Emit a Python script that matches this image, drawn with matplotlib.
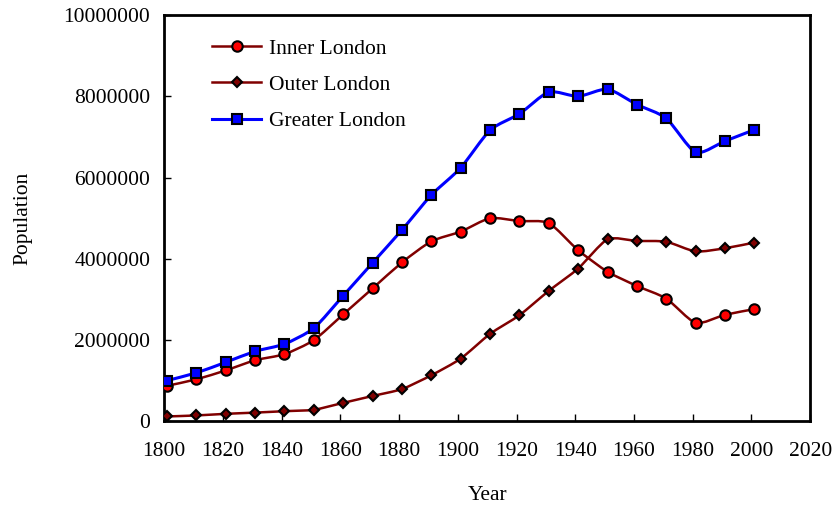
import matplotlib
matplotlib.use('Agg')
import matplotlib.pyplot as plt
import numpy as np
from matplotlib.path import Path
from matplotlib.patches import PathPatch
from matplotlib.lines import Line2D

# census years and population
years = [1801, 1811, 1821, 1831, 1841, 1851, 1861, 1871, 1881, 1891, 1901,
         1911, 1921, 1931, 1941, 1951, 1961, 1971, 1981, 1991, 2001]
inner_london = [870000, 1030000, 1250000, 1500000, 1650000, 1995000, 2630000,
                3270000, 3910000, 4430000, 4670000, 5000000, 4930000, 4880000,
                4210000, 3680000, 3330000, 3020000, 2420000, 2620000, 2760000]
outer_london = [115000, 140000, 180000, 210000, 245000, 280000, 450000,
                620000, 790000, 1130000, 1540000, 2150000, 2610000, 3210000,
                3760000, 4480000, 4440000, 4420000, 4180000, 4260000, 4400000]
greater_london = [1000000, 1190000, 1450000, 1720000, 1900000, 2290000, 3090000,
                  3900000, 4710000, 5570000, 6240000, 7170000, 7570000, 8110000,
                  8000000, 8180000, 7800000, 7460000, 6620000, 6900000, 7180000]

plt.rcParams['font.family'] = ['Liberation Serif', 'DejaVu Serif']
FS = 15.5


def smooth_path(x, y, k=9.0):
    # excel-like smoothed line: catmull-rom segments as cubic beziers
    pts = np.column_stack([x, y]).astype(float)
    n = len(pts)
    verts = [pts[0]]
    codes = [Path.MOVETO]
    for i in range(n - 1):
        p0 = pts[i - 1] if i > 0 else pts[i]
        p1 = pts[i]
        p2 = pts[i + 1]
        p3 = pts[i + 2] if i + 2 < n else pts[i + 1]
        c1 = p1 + (p2 - p0) / k
        c2 = p2 - (p3 - p1) / k
        verts += [c1, c2, p2]
        codes += [Path.CURVE4] * 3
    return Path(verts, codes)


fig = plt.figure(figsize=(8.37, 5.08), dpi=100)
ax = fig.add_axes([0.196, 0.171, 0.772, 0.799])

series = [
    ('Inner London', inner_london, '#800000', 'o', 'red', 7.5, 1.8),
    ('Outer London', outer_london, '#800000', 'D', '#800000', 5.5, 1.8),
    ('Greater London', greater_london, '#0000ff', 's', '#0000ff', 7.5, 2.2),
]

handles = []
for label, vals, col, mk, mfc, ms, lw in series:
    ax.add_patch(PathPatch(smooth_path(years, vals), facecolor='none',
                           edgecolor=col, lw=lw, zorder=2))
    ax.plot(years, vals, linestyle='none', marker=mk, markersize=ms,
            markerfacecolor=mfc, markeredgecolor='black',
            markeredgewidth=1.5, zorder=3)
    handles.append(Line2D([], [], color=col, lw=lw, marker=mk, markersize=ms,
                          markerfacecolor=mfc, markeredgecolor='black',
                          markeredgewidth=1.5))

ax.set_xlim(1800, 2020)
ax.set_ylim(0, 10000000)
ax.set_xticks(np.arange(1800, 2021, 20))
ax.set_yticks(np.arange(0, 10000001, 2000000))
ax.set_yticklabels([str(v) for v in range(0, 10000001, 2000000)])
ax.tick_params(direction='in', length=5, width=1, labelsize=FS)
ax.tick_params(axis='x', pad=15)
ax.tick_params(axis='y', pad=10)
for sp in ax.spines.values():
    sp.set_linewidth(2)

ax.set_xlabel('Year', fontsize=FS, labelpad=18)
ax.set_ylabel('Population', fontsize=FS, labelpad=22)

ax.legend(handles, [s[0] for s in series], loc='upper left',
          bbox_to_anchor=(0.044, 0.99), frameon=False, fontsize=FS,
          handlelength=2.3, handletextpad=0.35, labelspacing=0.75)

fig.savefig('out.png', dpi=100)
